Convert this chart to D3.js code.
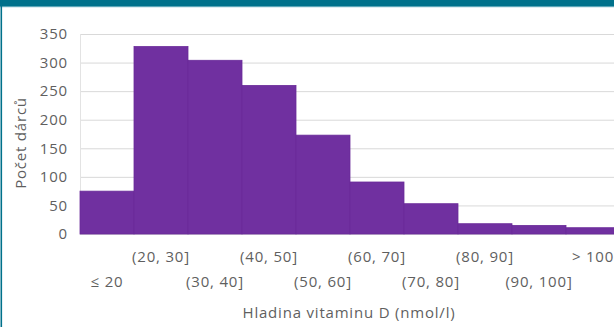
<!DOCTYPE html>
<html><head><meta charset="utf-8">
<script src="https://cdn.jsdelivr.net/npm/d3@7/dist/d3.min.js"></script>
<style>
html,body{margin:0;padding:0;background:#fff;overflow:hidden;}
text{font-family:"Open Sans",sans-serif;fill:#5f5f5f;letter-spacing:0.8px;}
</style></head>
<body><svg id="c" width="614" height="327"></svg>
<script>
const categories = ["≤ 20","(20, 30]","(30, 40]","(40, 50]","(50, 60]","(60, 70]","(70, 80]","(80, 90]","(90, 100]","> 100"];
const counts = [75, 328, 304, 260, 173, 91, 53, 18, 15, 11];
const yTicks = [0, 50, 100, 150, 200, 250, 300, 350];
const yTitle = "Počet dárců";
const xTitle = "Hladina vitaminu D (nmol/l)";

const svg = d3.select("#c");
const W = 614, H = 327;
const m = {left: 80, top: 34, bottom: 234, right: 620};

// frame
svg.append("rect").attr("x",0).attr("y",0).attr("width",W).attr("height",6).attr("fill","#00718b");
svg.append("rect").attr("x",0).attr("y",6).attr("width",W).attr("height",1.2).attr("fill","#5aa6b8");
svg.append("rect").attr("x",0.5).attr("y",0).attr("width",1.6).attr("height",H).attr("fill","#00718b");

const x = d3.scaleBand().domain(categories).range([m.left, m.right]).padding(0);
const y = d3.scaleLinear().domain([0, 350]).range([m.bottom, m.top]);

// grid
const gy = svg.append("g").attr("transform",`translate(${m.left},0)`)
  .call(d3.axisLeft(y).tickValues(yTicks).tickSize(-(W - m.left)).tickPadding(12).tickFormat(d3.format("d")));
gy.select(".domain").remove();
gy.selectAll(".tick line").attr("stroke","#d9d9d9").attr("stroke-width",1);
gy.selectAll(".tick text").style("font-size","15px").attr("fill","#5f5f5f");

svg.append("line").attr("x1",m.left+0.5).attr("x2",m.left+0.5).attr("y1",m.top).attr("y2",m.bottom).attr("stroke","#e3e3e3");

// bars
svg.append("g").selectAll("rect").data(counts).join("rect")
  .attr("x",(d,i)=>x(categories[i]))
  .attr("width",x.bandwidth())
  .attr("y",d=>y(d))
  .attr("height",d=>y(0)-y(d))
  .attr("fill","#7030a0")
  .attr("stroke","#6a2b99")
  .attr("stroke-width",0.8);

// x labels, alternating rows
svg.append("g").selectAll("text").data(categories).join("text")
  .attr("x",d=>x(d)+x.bandwidth()/2)
  .attr("y",(d,i)=> i%2===1 ? 262 : 287)
  .attr("text-anchor","middle")
  .style("font-size","15px")
  .text(d=>d);

svg.append("text").attr("x",349).attr("y",318).attr("text-anchor","middle").style("font-size","15px").text(xTitle);
svg.append("text").attr("transform","translate(26,143) rotate(-90)").attr("text-anchor","middle").style("font-size","15px").text(yTitle);
</script></body></html>
